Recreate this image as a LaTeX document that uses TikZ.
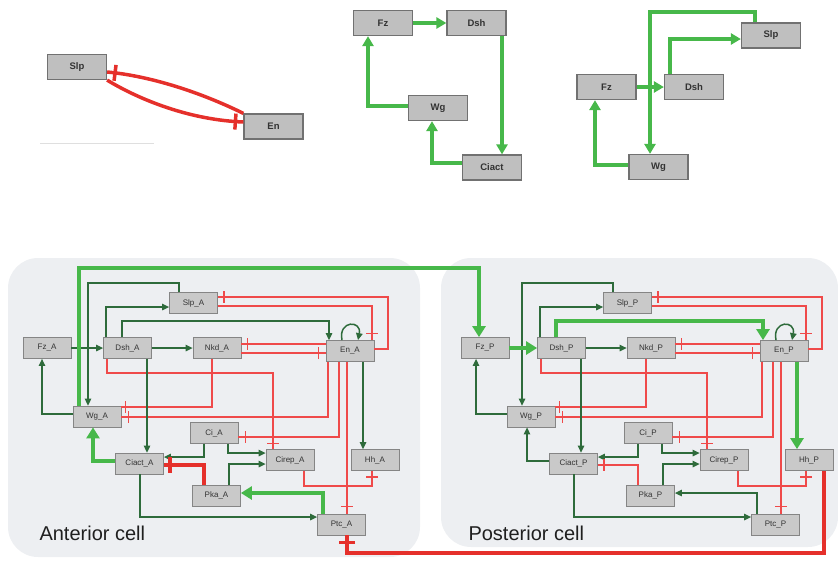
\documentclass[tikz,border=0pt]{standalone}
\usepackage{fontspec}
\setmainfont{Liberation Sans}
\usetikzlibrary{arrows.meta,decorations.markings}
\definecolor{bgc}{HTML}{EDEFF2}
\definecolor{nodef}{HTML}{C9C9C9}
\definecolor{noded}{HTML}{858585}
\definecolor{tgreen}{HTML}{47B84A}
\definecolor{dgreen}{HTML}{2E6B3B}
\definecolor{hred}{HTML}{E5302B}
\definecolor{lred}{HTML}{EF4A4A}
\definecolor{txt}{HTML}{333333}
\tikzset{
 cbox/.style={draw=noded, fill=nodef, line width=0.8pt, minimum width=48pt, minimum height=21pt, inner sep=0pt, font=\fontsize{8}{9}\selectfont, text=txt},
 tbox/.style={draw=noded!85!black, fill=nodef!95!black, line width=1.2pt, minimum width=59pt, minimum height=25pt, inner sep=0pt, font=\fontsize{9.5}{10}\selectfont\bfseries, text=txt},
 inh/.style={postaction={decorate,decoration={markings,mark=at position -#1 with {\draw[-,line width=1.2pt] (0pt,-6pt)--(0pt,6pt);}}}},
 inh/.default=6pt,
 inhT/.style={postaction={decorate,decoration={markings,mark=at position -#1 with {\draw[-,line width=3.5pt] (0pt,-8pt)--(0pt,8pt);}}}},
 inhT/.default=7pt,
 thing/.style={draw, color=dgreen, line width=1.3pt, -{Triangle[length=7pt,width=6.5pt]}},
 thickg/.style={draw, color=tgreen, line width=4.5pt, -{Triangle[length=11pt,width=13pt]}},
 thinr/.style={draw, color=lred, line width=1.2pt},
 thickr/.style={draw, color=hred, line width=4.5pt},
 topg/.style={draw, color=tgreen, line width=4pt, -{Triangle[length=10pt,width=11pt]}},
 topr/.style={draw, color=hred, line width=3.5pt},
}
\newcommand\drawcell[2]{%
\node[cbox] (Fz#1) at (#2,348) {Fz\_#1};
\node[cbox] (Dsh#1) at (127.5,348) {Dsh\_#1};
\node[cbox] (Slp#1) at (193.5,303) {Slp\_#1};
\node[cbox] (Nkd#1) at (217,348) {Nkd\_#1};
\node[cbox] (En#1) at (350,351) {En\_#1};
\node[cbox] (Wg#1) at (97,416.5) {Wg\_#1};
\node[cbox] (Ci#1) at (214,433) {Ci\_#1};
\node[cbox] (Ciact#1) at (139.5,463.5) {Ciact\_#1};
\node[cbox] (Cirep#1) at (290,460) {Cirep\_#1};
\node[cbox] (Hh#1) at (375,460) {Hh\_#1};
\node[cbox] (Pka#1) at (216.5,495.5) {Pka\_#1};
\node[cbox] (Ptc#1) at (341.5,524.5) {Ptc\_#1};
% red inhibitions
\draw[thinr, inh=4pt] (Nkd#1.south -| 212,0) |- (Wg#1.east |- 0,407);
\draw[thinr, inh=7pt] (En#1.south -| 328,0) |- (Wg#1.east |- 0,417);
\draw[thinr, inh=6pt] (Dsh#1.south -| 107,0) -- (107,373) -| (Cirep#1.north -| 273,0);
\draw[thinr, inh=6pt] (En#1.east |- 0,349) -| (388,297) -- (Slp#1.east |- 0,297);
\draw[thinr, inh=7pt] (Slp#1.east |- 0,306) -| (En#1.north -| 372,0);
\draw[thinr, inh=6pt] (En#1.west |- 0,344) -- (Nkd#1.east |- 0,344);
\draw[thinr, inh=7pt] (Nkd#1.east |- 0,353) -- (En#1.west |- 0,353);
\draw[thinr, inh=7pt] (En#1.south -| 339,0) |- (Ci#1.east |- 0,437);
\draw[thinr, inh=7pt] (En#1.south -| 347,0) -- (Ptc#1.north -| 347,0);
\draw[thinr, inh=6pt] (Cirep#1.south -| 304,0) -- (304,486) -| (Hh#1.south -| 372,0);
% green activations
\draw[thing] (Dsh#1.east) -- (Nkd#1.west);
\draw[thing] (Dsh#1.north -| 106,0) |- (Slp#1.west |- 0,307);
\draw[thing] (Slp#1.north -| 179,0) -- (179,283) -| (Wg#1.north -| 88,0);
\draw[thing] (Wg#1.west |- 0,414) -| (Fz#1.south -| 42,0);
\draw[thing, line width=1.5pt] (En#1.north -| 342,0) .. controls (338,320) and (362,320) .. (En#1.north -| 358,0);
\draw[thing] (Ci#1.south -| 204,0) |- (Ciact#1.east |- 0,457);
\draw[thing] (Ci#1.south -| 228,0) |- (Cirep#1.west |- 0,453);
\draw[thing] (Pka#1.north -| 229,0) |- (Cirep#1.west |- 0,464);
\draw[thing] (Dsh#1.south -| 147,0) -- (Ciact#1.north -| 147,0);
\draw[thing] (Ciact#1.south -| 140,0) |- (Ptc#1.west |- 0,517);
\draw[pkaciact] (Pka#1.north -| 204,0) |- (Ciact#1.east |- 0,465);
\draw[fzdsh] (Fz#1.east) -- (Dsh#1.west);
\draw[dshen] (Dsh#1.north -| 122,0) -- (122,321) -| (En#1.north -| 329,0);
\draw[enhh] (En#1.south -| 363,0) -- (Hh#1.north -| 363,0);
\draw[ciactwg] (Ciact#1.west |- 0,461) -| (Wg#1.south -| 93,0);
\draw[ptcpka] (Ptc#1.north -| 323,0) |- (Pka#1.east |- 0,493);
}
\begin{document}
\begin{tikzpicture}[x=1pt,y=-1pt]
\useasboundingbox (0,0) rectangle (838,563);
\clip (0,0) rectangle (838,563);
% cell backgrounds
\fill[bgc, rounded corners=30pt] (8,258) rectangle (420,557);
\fill[bgc, rounded corners=30pt] (441,258) rectangle (838,547);
% top left
\draw[gray!25, line width=0.8pt] (40,143) -- (154,143);
\node[tbox] (tSlp) at (77,67) {Slp};
\node[tbox] (tEn) at (273.5,126.5) {En};
\draw[topr, inhT=8pt] (tEn.north west) .. controls (200,92) and (150,76) .. (tSlp.east |- 0,72);
\draw[topr, inhT=8pt] (tSlp.south east) .. controls (140,100) and (190,120) .. (tEn.west |- 0,122);
% top middle
\node[tbox] (mFz) at (383,23) {Fz};
\node[tbox] (mDsh) at (476.5,23) {Dsh};
\node[tbox] (mWg) at (438,108) {Wg};
\node[tbox] (mCiact) at (492,167.5) {Ciact};
\draw[topg] (mFz.east) -- (mDsh.west);
\draw[topg] (mDsh.south -| 502,0) -- (mCiact.north -| 502,0);
\draw[topg] (mWg.west |- 0,106) -| (mFz.south -| 368,0);
\draw[topg] (mCiact.west |- 0,163) -| (mWg.south -| 432,0);
% top right
\node[tbox] (rFz) at (606.5,87) {Fz};
\node[tbox] (rDsh) at (694,87) {Dsh};
\node[tbox] (rSlp) at (771,35.5) {Slp};
\node[tbox] (rWg) at (658.5,167) {Wg};
\draw[topg] (rFz.east) -- (rDsh.west);
\draw[topg] (rSlp.north -| 755,0) -- (755,12) -| (rWg.north -| 650,0);
\draw[topg] (rDsh.north -| 670,0) |- (rSlp.west |- 0,39);
\draw[topg] (rWg.west |- 0,165) -| (rFz.south -| 595,0);
% cells
\begin{scope}[fzdsh/.style={thing}, dshen/.style={thing}, enhh/.style={thing},
  ciactwg/.style={thickg}, pkaciact/.style={thickr,inhT=6pt}, ptcpka/.style={thickg}]
\drawcell{A}{47}
\end{scope}
\begin{scope}[xshift=434pt, fzdsh/.style={thickg}, dshen/.style={thickg}, enhh/.style={thickg},
  ciactwg/.style={thing}, pkaciact/.style={thinr,inh=6pt}, ptcpka/.style={thing}]
\drawcell{P}{51}
\end{scope}
% intercellular
\draw[thickg] (WgA.north -| 79,0) -- (79,268) -| (FzP.north -| 479,0);
\draw[thickr, inhT=7pt] (HhP.south -| 824,0) -- (824,553) -| (PtcA.south -| 347,0);
% labels
\node[anchor=base west, font=\fontsize{20}{22}\selectfont, text=black!88] (labA) at (36,540) {Anterior cell};
\node[anchor=base west, font=\fontsize{20}{22}\selectfont, text=black!88] (labP) at (465,540) {Posterior cell};
\end{tikzpicture}
\end{document}
